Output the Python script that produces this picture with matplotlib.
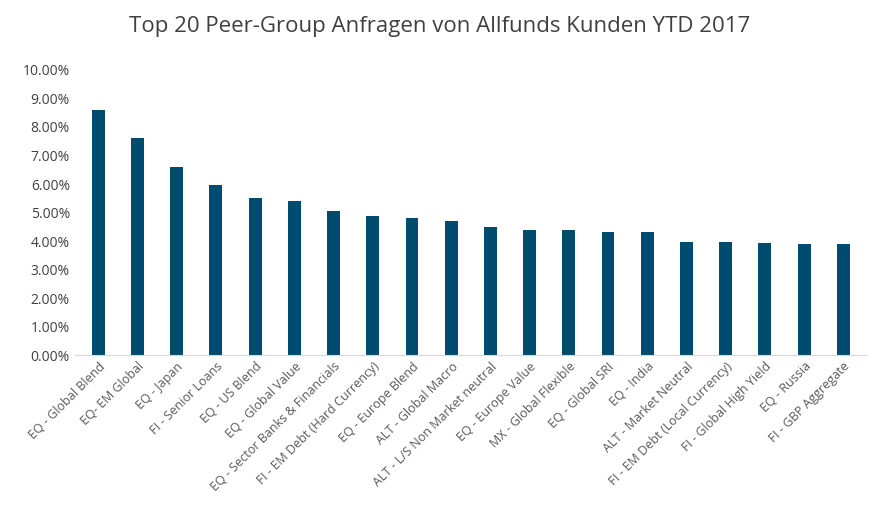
import matplotlib.pyplot as plt
from matplotlib.ticker import PercentFormatter

plt.rcParams['font.family'] = ['Open Sans', 'DejaVu Sans']

peer_groups = [
    ("EQ - Global Blend", 8.60), ("EQ- EM Global", 7.60), ("EQ - Japan", 6.60),
    ("FI - Senior Loans", 5.95), ("EQ - US Blend", 5.50), ("EQ - Global Value", 5.40),
    ("EQ - Sector Banks & Financials", 5.05), ("FI - EM Debt (Hard Currency)", 4.87),
    ("EQ - Europe Blend", 4.80), ("ALT - Global Macro", 4.70),
    ("ALT - L/S Non Market neutral", 4.48), ("EQ - Europe Value", 4.40),
    ("MX - Global Flexible", 4.37), ("EQ - Global SRI", 4.33), ("EQ - India", 4.30),
    ("ALT - Market Neutral", 3.95), ("FI - EM Debt (Local Currency)", 3.95),
    ("FI - Global High Yield", 3.92), ("EQ - Russia", 3.88), ("FI - GBP Aggregate", 3.88),
]
names = [p[0] for p in peer_groups]
values = [p[1] for p in peer_groups]

fig = plt.figure(figsize=(8.8, 5.3), dpi=100)
ax = fig.add_axes([0.085, 0.33, 0.9, 0.538])
ax.bar(range(len(values)), values, width=0.33, color='#004B70')
ax.set_ylim(0, 10)
ax.set_xlim(-0.6, len(values) - 0.4)
ax.set_yticks(range(0, 11))
ax.yaxis.set_major_formatter(PercentFormatter(decimals=2))
ax.set_xticks(range(len(values)))
ax.set_xticklabels(names, rotation=45, ha='right', rotation_mode='anchor', fontsize=9, color='#595959')
ax.tick_params(axis='y', labelsize=10, colors='#404040', length=0)
ax.tick_params(axis='x', length=0)
for s in ['top', 'right', 'left']:
    ax.spines[s].set_visible(False)
ax.spines['bottom'].set_color('#d9d9d9')
fig.suptitle('Top 20 Peer-Group Anfragen von Allfunds Kunden YTD 2017', y=0.97, fontsize=16, color='#404040')
fig.savefig('out.png')
